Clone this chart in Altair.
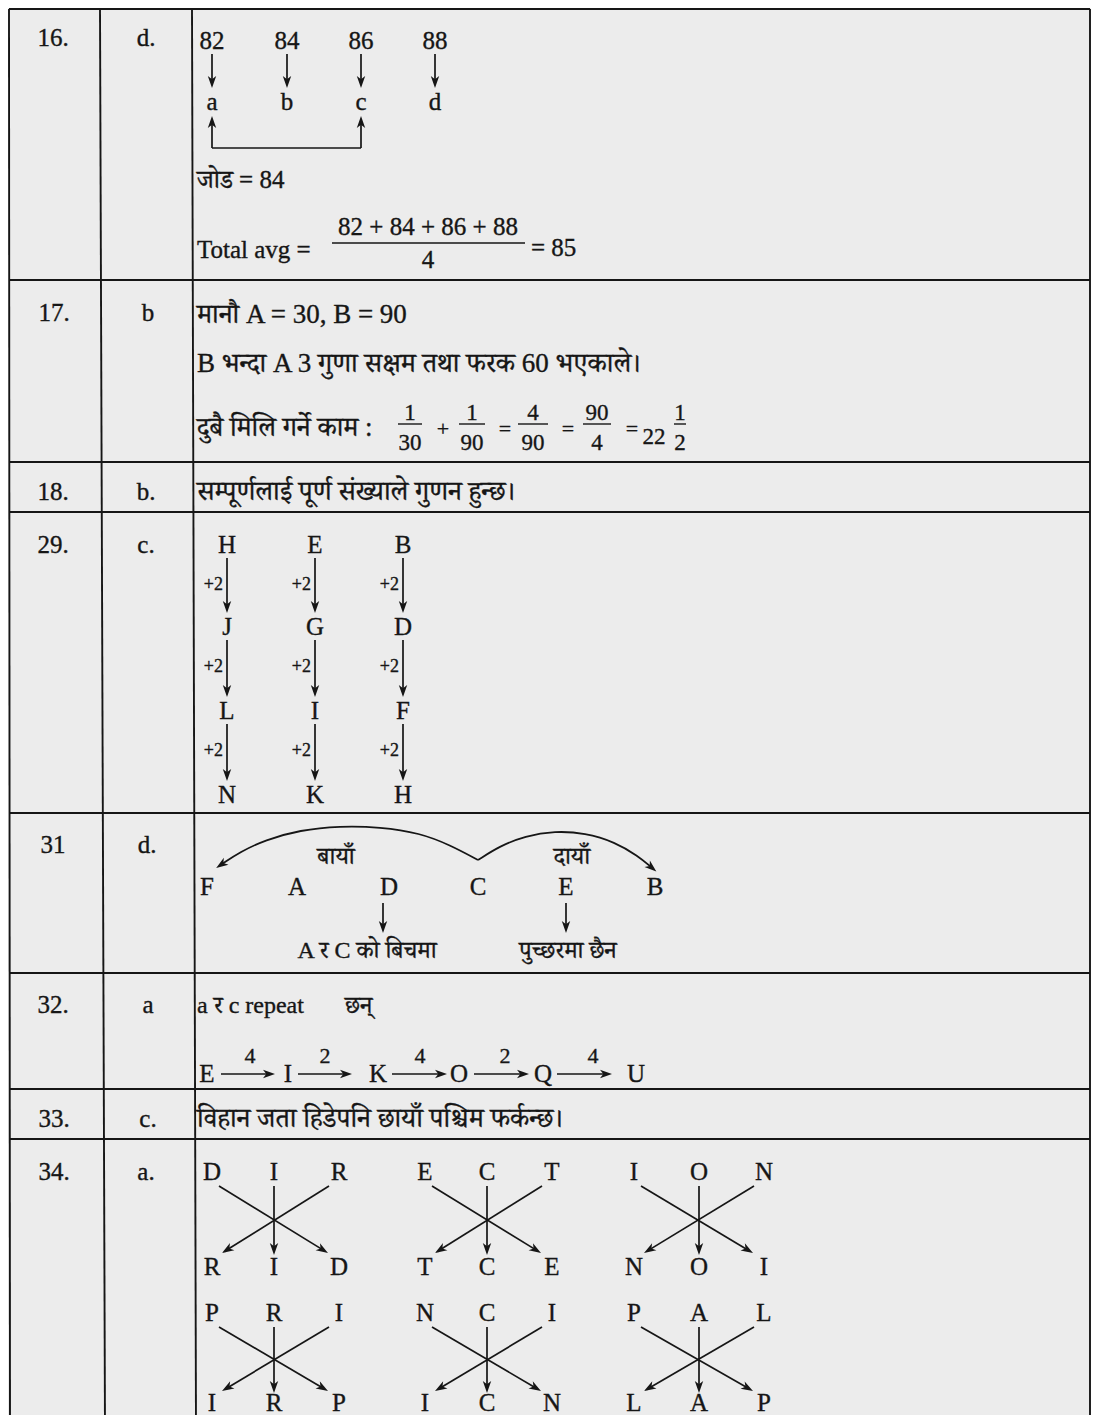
import math
import altair as alt
import pandas as pd

# ---------------- content ----------------
row_numbers = ["16.", "17.", "18.", "29.", "31", "32.", "33.", "34."]
answers = ["d.", "b", "b.", "c.", "d.", "a", "c.", "a."]

q16_values = ["82", "84", "86", "88"]
q16_letters = ["a", "b", "c", "d"]
q16_sum_label = "जोड = 84"
q16_avg_label = "Total avg ="
q16_numerator = "82 + 84 + 86 + 88"
q16_denominator = "4"
q16_result = "= 85"

q17_lines = ["मानौ A = 30, B = 90",
             "B भन्दा A 3 गुणा सक्षम तथा फरक 60 भएकाले।",
             "दुबै मिलि गर्ने काम :"]
q17_numerators = ["1", "1", "4", "90", "1"]
q17_denominators = ["30", "90", "90", "4", "2"]
q17_operators = ["+", "=", "=", "="]
q17_whole = "22"

q18_text = "सम्पूर्णलाई पूर्ण संख्याले गुणन हुन्छ।"

q29_columns = [["H", "J", "L", "N"], ["E", "G", "I", "K"], ["B", "D", "F", "H"]]
q29_step = "+2"

q31_order = ["F", "A", "D", "C", "E", "B"]
q31_arc_labels = ["बायाँ", "दायाँ"]
q31_notes = ["A र C को बिचमा", "पुच्छरमा छैन"]

q32_note = ["a र c repeat", "छन्"]
q32_letters = ["E", "I", "K", "O", "Q", "U"]
q32_gaps = ["4", "2", "4", "2", "4"]

q33_text = "विहान जता हिडेपनि छायाँ पश्चिम फर्कन्छ।"

q34_row1 = [["D", "I", "R"], ["E", "C", "T"], ["I", "O", "N"]]
q34_row2 = [["R", "I", "D"], ["T", "C", "E"], ["N", "O", "I"]]
q34_row3 = [["P", "R", "I"], ["N", "C", "I"], ["P", "A", "L"]]
q34_row4 = [["I", "R", "P"], ["I", "C", "N"], ["L", "A", "P"]]

# ---------------- layout (page pixel frame) ----------------
PAGE_X0, PAGE_X1 = 8, 1091
PAGE_Y0, PAGE_Y1 = 8, 1415
row_baselines = [46, 321, 500, 553, 853, 1013, 1127, 1180]
num_col_x = [53, 54, 53, 53, 53, 53, 54, 54]
ans_col_x = [146, 148, 146, 146, 147, 148, 148, 146]
h_lines_y = [9, 280, 462, 512, 813, 973, 1089, 1139]
v_top_x = [9, 100, 192, 1090]
v_bot_x = [10, 105, 196, 1090]
TEXT_LEFT = 197

q16_x = [212, 287, 361, 435]
q17_frac_x = [410, 472, 533, 597, 680]
q17_frac_half = [12, 13, 15, 14, 6]
q17_op_x = [443, 505, 568, 632]
q29_x = [227, 315, 403]
q29_y = [553, 635, 719, 803]
q31_x = [207, 297, 389, 478, 566, 655]
q32_x = [207, 288, 378, 459, 543, 636]
q32_arrows = [(221, 275), (298, 352), (392, 447), (474, 529), (557, 612)]
q32_gap_x = [250, 325, 420, 505, 593]
q34_x = [[212, 274, 339], [425, 487, 552], [634, 699, 764]]
q34_y = [1180, 1275, 1321, 1411]
q34_cross = [(1186, 1253), (1327, 1391)]

left_arc = [(478, 860), (450, 845), (420, 833), (380, 827), (340, 826),
            (300, 830), (265, 840), (240, 852), (222, 864)]
right_arc = [(478, 860), (500, 846), (525, 836), (555, 831), (585, 833),
             (615, 842), (638, 856), (651, 867)]

FONT = ("Liberation Serif, Noto Serif Devanagari, Noto Sans Devanagari, "
        "Lohit Devanagari, FreeSerif, serif")
INK = "#161616"
SZ = 25
SZ_DEV = 27
SZ_MID = 24
SZ_FRAC = 23
SZ_SMALL = 18
HEAD_LEN = 12
ARROW_SHAPE = "M0,-1L0.7,1L0,0.45L-0.7,1Z"

# ---------------- build records ----------------
t_center, t_left, t_right = [], [], []
grid, shafts, thin, heads, curves = [], [], [], [], []


def put(lst, x, y, text, size=SZ):
    lst.append(dict(x=x, y=y, text=text, size=size))


def add_head(tx, ty, ux, uy):
    ang = math.degrees(math.atan2(ux, -uy)) % 360
    heads.append(dict(x=tx - ux * HEAD_LEN / 2, y=ty - uy * HEAD_LEN / 2, angle=ang))


def arrow(x1, y1, x2, y2):
    """shaft from (x1,y1) to the tip (x2,y2) plus a head at the tip"""
    dx, dy = x2 - x1, y2 - y1
    n = math.hypot(dx, dy)
    ux, uy = dx / n, dy / n
    shafts.append(dict(x=x1, y=y1, x2=x2 - ux * HEAD_LEN * 0.5, y2=y2 - uy * HEAD_LEN * 0.5))
    add_head(x2, y2, ux, uy)


# grid
for y in h_lines_y:
    grid.append(dict(x=v_top_x[0], y=y, x2=v_top_x[-1], y2=y))
for xt, xb in zip(v_top_x, v_bot_x):
    grid.append(dict(x=xt, y=h_lines_y[0], x2=xb, y2=1430))

# first two columns
for t, x, y in zip(row_numbers, num_col_x, row_baselines):
    put(t_center, x, y, t)
for t, x, y in zip(answers, ans_col_x, row_baselines):
    put(t_center, x, y, t)

# Q16
for v, l, x in zip(q16_values, q16_letters, q16_x):
    put(t_center, x, 49, v)
    put(t_center, x, 110, l)
    arrow(x, 54, x, 88)
for x in (q16_x[0], q16_x[2]):
    arrow(x, 148, x, 116)
shafts.append(dict(x=q16_x[0], y=148, x2=q16_x[2], y2=148))
put(t_left, TEXT_LEFT, 188, q16_sum_label)
put(t_left, TEXT_LEFT, 258, q16_avg_label)
put(t_center, 428, 235, q16_numerator)
put(t_center, 428, 268, q16_denominator)
thin.append(dict(x=332, y=243, x2=525, y2=243))
put(t_left, 531, 256, q16_result)

# Q17
put(t_left, TEXT_LEFT, 323, q17_lines[0], SZ_DEV)
put(t_left, TEXT_LEFT, 372, q17_lines[1], SZ_DEV)
put(t_left, TEXT_LEFT, 436, q17_lines[2], SZ_DEV)
for n, d, x, hw in zip(q17_numerators, q17_denominators, q17_frac_x, q17_frac_half):
    put(t_center, x, 420, n, SZ_FRAC)
    put(t_center, x, 450, d, SZ_FRAC)
    thin.append(dict(x=x - hw, y=424, x2=x + hw, y2=424))
for o, x in zip(q17_operators, q17_op_x):
    put(t_center, x, 436, o, 22)
put(t_center, 654, 444, q17_whole, SZ_FRAC)

# Q18
put(t_left, TEXT_LEFT, 500, q18_text, SZ_DEV)

# Q29
for col, x in zip(q29_columns, q29_x):
    for i, (letter, y) in enumerate(zip(col, q29_y)):
        put(t_center, x, y, letter)
        if i < len(col) - 1:
            y_next = q29_y[i + 1]
            arrow(x, y + 5, x, y_next - 22)
            put(t_right, x - 4, y + 37, q29_step, SZ_SMALL)

# Q31
for letter, x in zip(q31_order, q31_x):
    put(t_center, x, 895, letter)
put(t_center, 336, 864, q31_arc_labels[0], SZ_MID)
put(t_center, 572, 864, q31_arc_labels[1], SZ_MID)
arrow(383, 903, 383, 933)
arrow(566, 903, 566, 933)
put(t_center, 367, 958, q31_notes[0], SZ_MID)
put(t_center, 568, 958, q31_notes[1], SZ_MID)
for g, pts in enumerate([left_arc, right_arc]):
    for o, (x, y) in enumerate(pts):
        curves.append(dict(x=x, y=y, g=g, o=o))
    (ax, ay), (bx, by) = pts[-2], pts[-1]
    n = math.hypot(bx - ax, by - ay)
    ux, uy = (bx - ax) / n, (by - ay) / n
    add_head(bx + ux * 7, by + uy * 7, ux, uy)

# Q32
put(t_left, TEXT_LEFT, 1013, q32_note[0], SZ_MID)
put(t_left, 345, 1013, q32_note[1], SZ_MID)
for letter, x in zip(q32_letters, q32_x):
    put(t_center, x, 1082, letter)
for (a, b), g, gx in zip(q32_arrows, q32_gaps, q32_gap_x):
    arrow(a, 1074, b, 1074)
    put(t_center, gx, 1063, g, 22)

# Q33
put(t_left, TEXT_LEFT, 1127, q33_text, SZ_DEV)

# Q34
for rows, ys, (yt, yb) in [((q34_row1, q34_row2), (q34_y[0], q34_y[1]), q34_cross[0]),
                           ((q34_row3, q34_row4), (q34_y[2], q34_y[3]), q34_cross[1])]:
    for g, xs in enumerate(q34_x):
        for r, y in zip(rows, ys):
            for letter, x in zip(r[g], xs):
                put(t_center, x, y, letter)
        xl, xm, xr = xs
        arrow(xl + 7, yt, xr - 11, yb)
        arrow(xr - 10, yt, xl + 10, yb)
        arrow(xm, yt, xm, yb + 2)

# ---------------- chart ----------------
XS = alt.Scale(domain=[PAGE_X0, PAGE_X1], nice=False, zero=False)
YS = alt.Scale(domain=[PAGE_Y0, PAGE_Y1], nice=False, zero=False, reverse=True)


def xy():
    return dict(x=alt.X("x:Q", scale=XS, axis=None), y=alt.Y("y:Q", scale=YS, axis=None))


def rules(records, width):
    return alt.Chart(pd.DataFrame(records)).mark_rule(
        color=INK, strokeWidth=width, strokeCap="butt").encode(
        x2="x2:Q", y2="y2:Q", **xy())


def texts(records, align):
    return alt.Chart(pd.DataFrame(records)).mark_text(
        align=align, baseline="alphabetic", font=FONT, color=INK,
        stroke=INK, strokeWidth=0.35).encode(
        text="text:N", size=alt.Size("size:Q", scale=None, legend=None), **xy())


grid_layer = rules(grid, 1.9)
shaft_layer = rules(shafts, 1.7)
thin_layer = rules(thin, 1.4)
curve_layer = alt.Chart(pd.DataFrame(curves)).mark_line(
    color=INK, strokeWidth=1.8, interpolate="basis").encode(
    detail="g:N", order="o:Q", **xy())
head_layer = alt.Chart(pd.DataFrame(heads)).mark_point(
    shape=ARROW_SHAPE, filled=True, size=HEAD_LEN * HEAD_LEN, color=INK,
    opacity=1, strokeWidth=0).encode(
    angle=alt.Angle("angle:Q", scale=None), **xy())

chart = alt.layer(
    grid_layer, thin_layer, shaft_layer, curve_layer, head_layer,
    texts(t_left, "left"), texts(t_center, "center"), texts(t_right, "right"),
).properties(
    width=PAGE_X1 - PAGE_X0, height=PAGE_Y1 - PAGE_Y0,
    background="#ececec", padding=0, autosize="none"
).configure_view(stroke=None)

chart.save("out.html", embed_options={"renderer": "svg", "actions": False})
